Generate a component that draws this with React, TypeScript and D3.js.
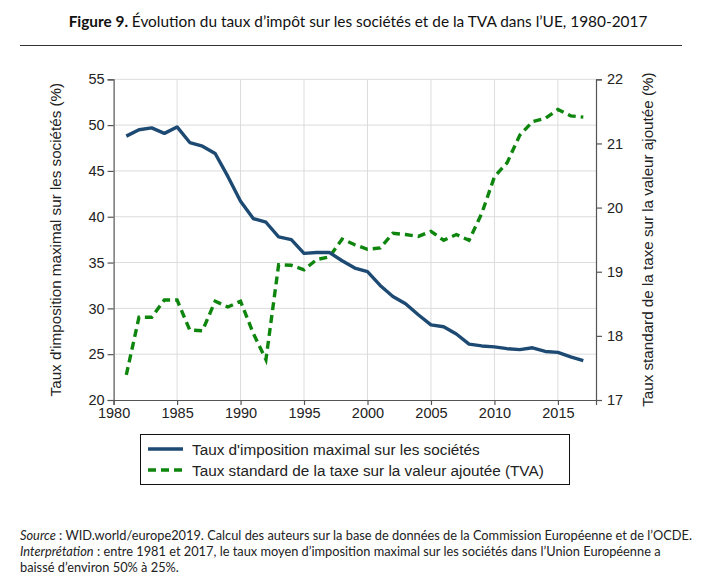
import { useEffect, useRef } from "react";
import * as d3 from "d3";

const YEARS = [1981, 1982, 1983, 1984, 1985, 1986, 1987, 1988, 1989, 1990, 1991, 1992, 1993, 1994, 1995, 1996, 1997, 1998, 1999, 2000, 2001, 2002, 2003, 2004, 2005, 2006, 2007, 2008, 2009, 2010, 2011, 2012, 2013, 2014, 2015, 2016, 2017];
const CORP = [48.8, 49.5, 49.7, 49.1, 49.8, 48.1, 47.7, 46.9, 44.4, 41.7, 39.8, 39.4, 37.8, 37.5, 36.0, 36.1, 36.1, 35.2, 34.4, 34.0, 32.5, 31.3, 30.5, 29.3, 28.2, 28.0, 27.2, 26.1, 25.9, 25.8, 25.6, 25.5, 25.7, 25.3, 25.2, 24.7, 24.3];
const VAT = [17.39, 18.29, 18.29, 18.56, 18.56, 18.09, 18.08, 18.54, 18.45, 18.54, 18.04, 17.63, 19.11, 19.10, 19.03, 19.19, 19.23, 19.51, 19.42, 19.35, 19.37, 19.60, 19.58, 19.55, 19.63, 19.49, 19.58, 19.49, 19.91, 20.48, 20.70, 21.13, 21.34, 21.39, 21.53, 21.43, 21.41];
const X_TICKS = [1980, 1985, 1990, 1995, 2000, 2005, 2010, 2015];
const LEFT_TICKS = [20, 25, 30, 35, 40, 45, 50, 55];
const RIGHT_TICKS = [17, 18, 19, 20, 21, 22];
const LEGEND = ["Taux d'imposition maximal sur les sociétés", "Taux standard de la taxe sur la valeur ajoutée (TVA)"];

const BLUE = "#1d4a72";
const GREEN = "#0e860e";
const GRID = "#dcdcdc";
const AXIS = "#555";
const SANS = "'Liberation Sans', Arial, sans-serif";
const LATO = "Lato, sans-serif";

export default function App() {
  const svgRef = useRef<SVGSVGElement>(null);

  useEffect(() => {
    if (!svgRef.current) return;
    const W = 712, H = 586;
    const L = 113.6, R = 596, T = 79.3, B = 400;
    const svg = d3.select(svgRef.current).attr("width", W).attr("height", H);
    svg.selectAll("*").remove();
    svg.append("rect").attr("width", W).attr("height", H).attr("fill", "#fff");

    // Title
    const title = svg.append("text").attr("x", 358).attr("y", 27).attr("text-anchor", "middle")
      .attr("font-family", LATO).attr("font-size", 15.4).attr("fill", "#111");
    title.append("tspan").attr("font-weight", 700).text("Figure 9. ");
    title.append("tspan").text("Évolution du taux d’impôt sur les sociétés et de la TVA dans l’UE, 1980-2017");
    svg.append("line").attr("x1", 20).attr("x2", 682).attr("y1", 45.5).attr("y2", 45.5)
      .attr("stroke", "#333").attr("stroke-width", 1);

    const x = d3.scaleLinear().domain([1980, 2018]).range([L, R]);
    const yL = d3.scaleLinear().domain([20, 55]).range([B, T]);
    const yR = d3.scaleLinear().domain([17, 22]).range([B, T]);

    // Grid
    const g = svg.append("g");
    g.selectAll("line.vg").data(X_TICKS.slice(1)).join("line")
      .attr("x1", d => x(d)).attr("x2", d => x(d)).attr("y1", T).attr("y2", B)
      .attr("stroke", GRID).attr("stroke-width", 1);
    g.selectAll("line.hg").data(LEFT_TICKS.slice(1)).join("line")
      .attr("x1", L).attr("x2", R).attr("y1", d => yL(d)).attr("y2", d => yL(d))
      .attr("stroke", GRID).attr("stroke-width", 1);

    const style = (sel: d3.Selection<SVGGElement, unknown, null, undefined>) => {
      sel.select(".domain").attr("stroke", AXIS).attr("stroke-width", 1.2);
      sel.selectAll("line").attr("stroke", AXIS).attr("stroke-width", 1.2);
      sel.selectAll("text").attr("font-family", SANS).attr("font-size", 14.5).attr("fill", "#222");
    };

    svg.append("g").attr("transform", `translate(0,${B})`)
      .call(d3.axisBottom(x).tickValues(X_TICKS).tickFormat(d3.format("d")).tickSizeOuter(0).tickSize(5).tickPadding(3))
      .call(style);
    svg.append("g").attr("transform", `translate(${L},0)`)
      .call(d3.axisLeft(yL).tickValues(LEFT_TICKS).tickFormat(d3.format("d")).tickSizeOuter(0).tickSize(6).tickPadding(3))
      .call(style);
    svg.append("g").attr("transform", `translate(${R},0)`)
      .call(d3.axisRight(yR).tickValues(RIGHT_TICKS).tickFormat(d3.format("d")).tickSizeOuter(0).tickSize(6).tickPadding(5))
      .call(style);

    // Axis titles
    svg.append("text").attr("transform", `translate(61,${(T + B) / 2}) rotate(-90)`)
      .attr("text-anchor", "middle").attr("font-family", SANS).attr("font-size", 15.2).attr("fill", "#222")
      .text("Taux d'imposition maximal sur les sociétés (%)");
    svg.append("text").attr("transform", `translate(653,${(T + B) / 2}) rotate(-90)`)
      .attr("text-anchor", "middle").attr("font-family", SANS).attr("font-size", 15.2).attr("fill", "#222")
      .text("Taux standard de la taxe sur la valeur ajoutée (%)");

    // Lines
    const lineL = d3.line<number>().x((_, i) => x(YEARS[i])).y(d => yL(d));
    const lineR = d3.line<number>().x((_, i) => x(YEARS[i])).y(d => yR(d));
    svg.append("path").datum(VAT).attr("d", lineR).attr("fill", "none")
      .attr("stroke", GREEN).attr("stroke-width", 3.4).attr("stroke-dasharray", "8,5");
    svg.append("path").datum(CORP).attr("d", lineL).attr("fill", "none")
      .attr("stroke", BLUE).attr("stroke-width", 3.4).attr("stroke-linejoin", "round");

    // Legend
    const lg = svg.append("g");
    lg.append("rect").attr("x", 140.5).attr("y", 434.5).attr("width", 429).attr("height", 50)
      .attr("fill", "#fff").attr("stroke", "#111").attr("stroke-width", 1);
    [0, 1].forEach(i => {
      const yy = 449 + i * 21;
      lg.append("line").attr("x1", 148).attr("x2", 183).attr("y1", yy).attr("y2", yy)
        .attr("stroke", i === 0 ? BLUE : GREEN).attr("stroke-width", 3.4)
        .attr("stroke-dasharray", i === 0 ? null : "8,5");
      lg.append("text").attr("x", 192).attr("y", yy + 5.5).attr("font-family", SANS).attr("font-size", 15.3)
        .attr("fill", "#222").text(LEGEND[i]);
    });

    // Footer
    const foot = svg.append("g").attr("font-family", LATO).attr("font-size", 12.8).attr("fill", "#222");
    const l1 = foot.append("text").attr("x", 20).attr("y", 540);
    l1.append("tspan").attr("font-style", "italic").text("Source");
    l1.append("tspan").text(" : WID.world/europe2019. Calcul des auteurs sur la base de données de la Commission Européenne et de l’OCDE.");
    const l2 = foot.append("text").attr("x", 20).attr("y", 556);
    l2.append("tspan").attr("font-style", "italic").text("Interprétation");
    l2.append("tspan").text(" : entre 1981 et 2017, le taux moyen d’imposition maximal sur les sociétés dans l’Union Européenne a");
    foot.append("text").attr("x", 20).attr("y", 572).text("baissé d’environ 50% à 25%.");
  }, []);

  return (
    <div style={{ position: "absolute", left: 0, top: 0 }}>
      <svg ref={svgRef} style={{ display: "block" }} />
    </div>
  );
}
